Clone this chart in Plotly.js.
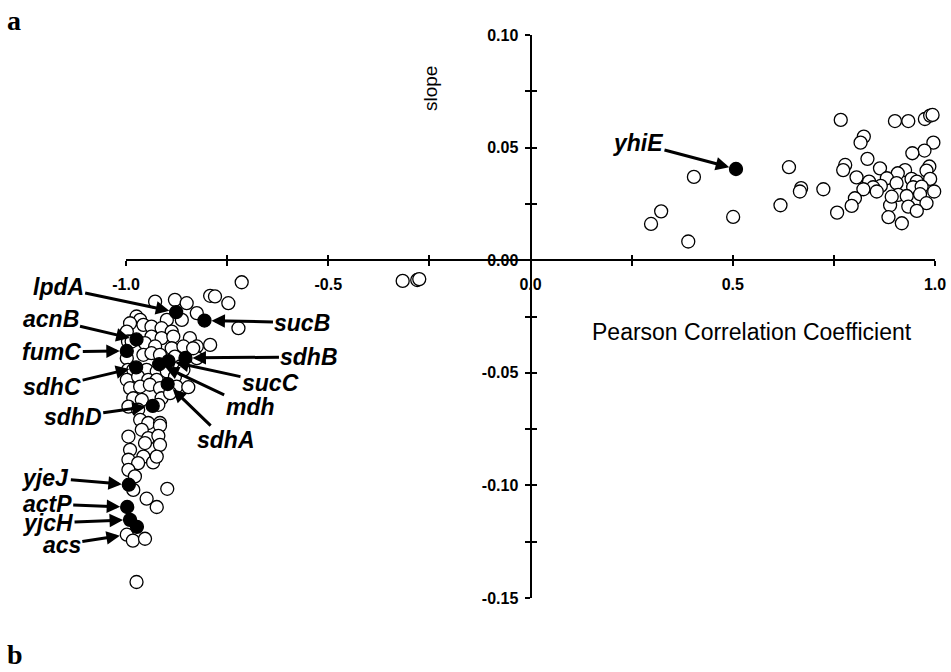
<!DOCTYPE html>
<html>
<head>
<meta charset="utf-8">
<script src="https://cdn.plot.ly/plotly-3.0.1.min.js"></script>
<style>html,body{margin:0;padding:0;background:#fff;}#chart{width:951px;height:672px;}</style>
</head>
<body>
<div id="chart"></div>
<script>
// ---- data (Pearson correlation coefficient, slope) ----
const openX = [
  // positively correlated genes
  0.404,0.323,0.298,0.390,0.501,0.618,
  0.767,0.901,0.934,0.975,0.988,0.994,
  0.824,0.816,0.996,0.974,0.944,0.833,
  0.639,0.778,0.773,0.864,0.926,0.986,0.979,
  0.806,0.908,0.837,0.881,0.942,0.955,0.988,
  0.866,0.905,0.847,0.669,0.666,0.724,0.823,
  0.946,0.967,0.998,0.909,0.930,0.963,0.802,
  0.856,0.794,0.889,0.934,0.979,0.758,0.885,
  0.918,0.955,0.893,
  // middle
  -0.316,-0.280,-0.275,
  // negatively correlated genes
  -0.714,-0.792,-0.780,-0.747,-0.722,-0.928,-0.879,-0.850,-0.825,-0.899,-0.862,
  -0.974,-0.965,-0.990,-0.957,-0.937,-0.912,-0.887,-0.937,-0.912,-0.883,-0.842,
  -0.825,-0.792,-0.998,-0.995,-0.986,-0.953,-0.928,-0.887,-0.858,-0.998,-0.957,
  -0.937,-0.916,-0.879,-0.825,-0.995,-0.982,-0.949,-0.924,-0.899,-0.866,-0.998,
  -0.970,-0.945,-0.924,-0.879,-0.858,-0.990,-0.965,-0.941,-0.916,-0.875,-0.982,
  -0.961,-0.912,-0.891,-0.994,-0.970,-0.920,-0.965,-0.945,-0.916,-0.846,-0.834,
  -0.916,-0.961,-0.994,-0.945,-0.920,-0.916,-0.990,-0.953,-0.957,-0.994,-0.970,
  -0.933,-0.924,-0.994,-0.978,-0.982,-0.949,-0.898,-0.924,-0.998,-0.983,-0.953,
  -0.974
];
const openY = [
  0.0370,0.0217,0.0161,0.0083,0.0192,0.0244,
  0.0623,0.0618,0.0618,0.0627,0.0642,0.0645,
  0.0549,0.0522,0.0522,0.0487,0.0475,0.0450,
  0.0413,0.0423,0.0400,0.0408,0.0400,0.0416,0.0398,
  0.0368,0.0386,0.0349,0.0364,0.0361,0.0349,0.0361,
  0.0330,0.0342,0.0324,0.0320,0.0305,0.0315,0.0315,
  0.0324,0.0327,0.0305,0.0290,0.0285,0.0293,0.0275,
  0.0305,0.0241,0.0244,0.0238,0.0253,0.0211,0.0191,
  0.0164,0.0219,0.0282,
  -0.0092,-0.0088,-0.0084,
  -0.0098,-0.0158,-0.0161,-0.0191,-0.0302,-0.0184,-0.0176,-0.0191,-0.0235,-0.0265,-0.0265,
  -0.0250,-0.0265,-0.0280,-0.0287,-0.0295,-0.0302,-0.0317,-0.0339,-0.0346,-0.0339,-0.0346,
  -0.0383,-0.0376,-0.0317,-0.0361,-0.0361,-0.0368,-0.0383,-0.0391,-0.0383,-0.0435,-0.0420,
  -0.0413,-0.0420,-0.0428,-0.0435,-0.0487,-0.0487,-0.0487,-0.0494,-0.0494,-0.0472,-0.0531,
  -0.0517,-0.0531,-0.0531,-0.0517,-0.0487,-0.0568,-0.0561,-0.0553,-0.0568,-0.0561,-0.0613,
  -0.0620,-0.0613,-0.0590,-0.0650,-0.0664,-0.0642,-0.0709,-0.0723,-0.0723,-0.0564,-0.0391,
  -0.0735,-0.0753,-0.0783,-0.0790,-0.0780,-0.0820,-0.0842,-0.0812,-0.0872,-0.0886,-0.0901,
  -0.0898,-0.0872,-0.0931,-0.0960,-0.1020,-0.1059,-0.1015,-0.1096,-0.1219,-0.1245,-0.1237,
  -0.1429
];
// highlighted genes (filled markers)
const geneNames = ["lpdA","sucB","acnB","fumC","sdhC","mdh","sucC","sdhB","sdhA","sdhD","yjeJ","actP","yjcH","","yhiE"];
const geneX = [-0.876,-0.806,-0.974,-0.998,-0.975,-0.918,-0.895,-0.853,-0.897,-0.934,-0.993,-0.997,-0.990,-0.973,0.508];
const geneY = [-0.0231,-0.0268,-0.0352,-0.0403,-0.0476,-0.0462,-0.0448,-0.0434,-0.0550,-0.0647,-0.0997,-0.1096,-0.1153,-0.1184,0.0405];
// labelled open point
const acsX = -0.998, acsY = -0.1219;

const xTickVals = [-1,-0.75,-0.5,-0.25,0,0.25,0.5,0.75,1];
const xTickText = ["-1.0","","-0.5","","0.0","","0.5","","1.0"];
const yTickVals = [-0.15,-0.125,-0.1,-0.075,-0.05,-0.025,0,0.025,0.05,0.075,0.1];
const yTickText = ["-0.15","","-0.10","","-0.05","","0.00","","0.05","","0.10"];

// ---- label offsets (pixels from the point to the label centre) ----
const labelOffsets = {
  lpdA:[-118,-25], sucB:[98,2], acnB:[-86,-20], fumC:[-75,1], sdhC:[-84,20],
  mdh:[91,43], sucC:[102,22], sdhB:[124,-1], sdhA:[58,56], sdhD:[-80,11],
  yjeJ:[-83,-7], actP:[-80,-3], yjcH:[-82,3], yhiE:[-98,-26], acs:[-65,10]
};

const traces = [
  {x: openX, y: openY, type:'scatter', mode:'markers', cliponaxis:false, hoverinfo:'x+y',
   marker:{symbol:'circle', size:13, color:'#ffffff', line:{color:'#000', width:1.3}}},
  {x: geneX, y: geneY, type:'scatter', mode:'markers', cliponaxis:false, text: geneNames,
   xaxis:'x2', yaxis:'y2',
   marker:{symbol:'circle', size:13, color:'#000', line:{color:'#000', width:1.3}}}
];

const tickFont = {family:'Liberation Sans, Arial, sans-serif', size:16, color:'#000', weight:700};
const labelFont = {family:'Liberation Sans, Arial, sans-serif', size:23, color:'#000'};
const annotations = [];
geneNames.forEach((g,i)=>{
  if(!g) return;
  const off = labelOffsets[g];
  annotations.push({x:geneX[i], y:geneY[i], xref:'x', yref:'y', text:'<b><i>'+g+'</i></b>',
    showarrow:true, ax:off[0], ay:off[1], arrowhead:2, arrowsize:0.9, arrowwidth:3, arrowcolor:'#000',
    standoff:7, font:labelFont});
});
annotations.push({x:acsX, y:acsY, xref:'x', yref:'y', text:'<b><i>acs</i></b>',
  showarrow:true, ax:labelOffsets.acs[0], ay:labelOffsets.acs[1], arrowhead:2, arrowsize:0.9, arrowwidth:3,
  arrowcolor:'#000', standoff:7, font:labelFont});
annotations.push({xref:'paper', yref:'paper', x:0.3758, y:0.904, xanchor:'center', yanchor:'middle',
  text:'slope', textangle:-90, showarrow:false,
  font:{family:'Liberation Sans, Arial, sans-serif', size:19, color:'#000'}});
annotations.push({xref:'paper', yref:'paper', x:0.774, y:0.4728, xanchor:'center', yanchor:'middle',
  text:'Pearson Correlation Coefficient', showarrow:false,
  font:{family:'Liberation Sans, Arial, sans-serif', size:23, color:'#000'}});
annotations.push({xref:'paper', yref:'paper', x:-0.149, y:1.025, xanchor:'left', yanchor:'middle', text:'<b>a</b>', showarrow:false,
  font:{family:'Liberation Serif, Times New Roman, serif', size:28, color:'#000'}});
annotations.push({xref:'paper', yref:'paper', x:-0.149, y:-0.1007, xanchor:'left', yanchor:'middle', text:'<b>b</b>', showarrow:false,
  font:{family:'Liberation Serif, Times New Roman, serif', size:28, color:'#000'}});

const layout = {
  width:951, height:672,
  margin:{l:126, r:16, t:35, b:74},
  paper_bgcolor:'#fff', plot_bgcolor:'#fff',
  showlegend:false,
  xaxis:{range:[-1,1], anchor:'free', position:0.6, showgrid:false, zeroline:false,
    showline:true, linecolor:'#000', linewidth:2, ticks:'outside', ticklen:5, tickwidth:2, tickcolor:'#000',
    tickmode:'array', tickvals:xTickVals, ticktext:xTickText, tickfont:tickFont, ticklabelstandoff:5},
  yaxis:{range:[-0.15,0.10], anchor:'free', position:0.5, showgrid:false, zeroline:false,
    showline:true, linecolor:'#000', linewidth:2, ticks:'outside', ticklen:5, tickwidth:2, tickcolor:'#000',
    tickmode:'array', tickvals:yTickVals, ticktext:yTickText, tickfont:tickFont, ticklabelstandoff:3},
  xaxis2:{range:[-1,1], overlaying:'x', anchor:'free', position:0.6, showgrid:false, zeroline:false,
    showline:false, ticks:'inside', ticklen:5, tickwidth:2, tickcolor:'#000', tickmode:'array',
    tickvals:xTickVals, showticklabels:false},
  yaxis2:{range:[-0.15,0.10], overlaying:'y', anchor:'free', position:0.5, showgrid:false, zeroline:false,
    showline:false, ticks:'inside', ticklen:5, tickwidth:2, tickcolor:'#000', tickmode:'array',
    tickvals:yTickVals, showticklabels:false},
  annotations: annotations
};

Plotly.newPlot('chart', traces, layout, {displayModeBar:false, staticPlot:true});
</script>
</body>
</html>
